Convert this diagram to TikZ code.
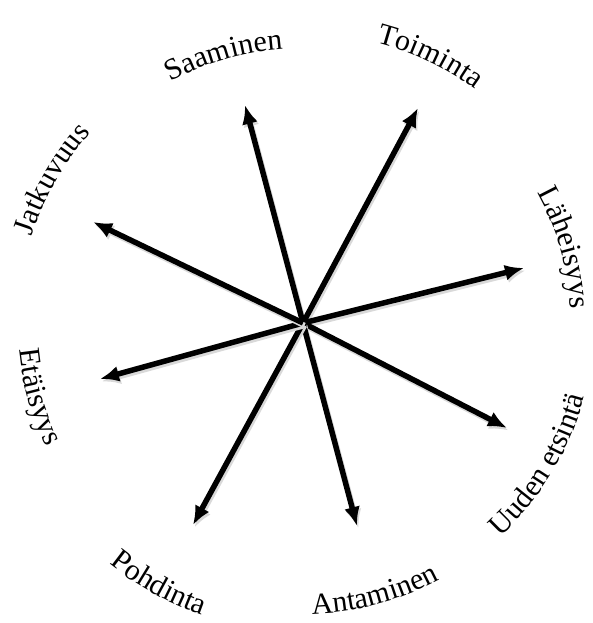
\documentclass[tikz,border=0pt]{standalone}
\usepackage{fontspec}
\setmainfont{Liberation Serif}
\usetikzlibrary{arrows.meta,decorations.text}
\newcommand{\WheelFont}{\fontsize{30}{36}\selectfont}
\tikzset{
  spoke/.style={
    -{Latex[length=19pt,width=16pt]},
    draw=black,
    line width=5.5pt,
    preaction={draw=black!15, line width=5.5pt,
      transform canvas={shift={(1.5pt,-2.5pt)}}}
  },
  outerword/.style={
    decorate,
    decoration={text along path, text align=center, text={|\WheelFont|#1}}
  },
  innerword/.style={outerword={#1}}
}

\begin{document}
\begin{tikzpicture}[x=1pt,y=1pt]
\useasboundingbox (-303,-300) rectangle (290,323);

\coordinate (hub) at (0,0);

% arrow tips
\coordinate (saaTip) at (-58,218);
\coordinate (toiTip) at (115,215);
\coordinate (lahTip) at (221,55);
\coordinate (uudTip) at (204,-105);
\coordinate (antTip) at (54,-203);
\coordinate (pohTip) at (-110,-202);
\coordinate (etaTip) at (-203,-56);
\coordinate (jatTip) at (-210,101);

\draw[spoke] (hub) -- (saaTip);
\draw[spoke] (hub) -- (toiTip);
\draw[spoke] (hub) -- (lahTip);
\draw[spoke] (hub) -- (uudTip);
\draw[spoke] (hub) -- (antTip);
\draw[spoke] (hub) -- (pohTip);
\draw[spoke] (hub) -- (etaTip);
\draw[spoke] (hub) -- (jatTip);

% upper words, read clockwise
\path[outerword={Jatkuvuus}] (hub) ++(180.2:285) arc[start angle=180.2, end angle=120.2, radius=285];
\path[outerword={Saaminen}] (hub) ++(136.5:275) arc[start angle=136.5, end angle=76.5, radius=275];
\path[outerword={Toiminta}] (hub) ++(94.5:290) arc[start angle=94.5, end angle=34.5, radius=290];
\path[outerword={Läheisyys}] (hub) ++(46:268) arc[start angle=46, end angle=-14, radius=268];

% lower words, read counter-clockwise
\path[innerword={Uuden etsintä}] (hub) ++(-61:291) arc[start angle=-61, end angle=-1, radius=291];
\path[innerword={Antaminen}] (hub) ++(-105.1:291) arc[start angle=-105.1, end angle=-45.1, radius=291];
\path[innerword={Pohdinta}] (hub) ++(-148.9:309) arc[start angle=-148.9, end angle=-88.9, radius=309];
\path[innerword={Etäisyys}] (hub) ++(-194.4:285) arc[start angle=-194.4, end angle=-134.4, radius=285];

\end{tikzpicture}
\end{document}
